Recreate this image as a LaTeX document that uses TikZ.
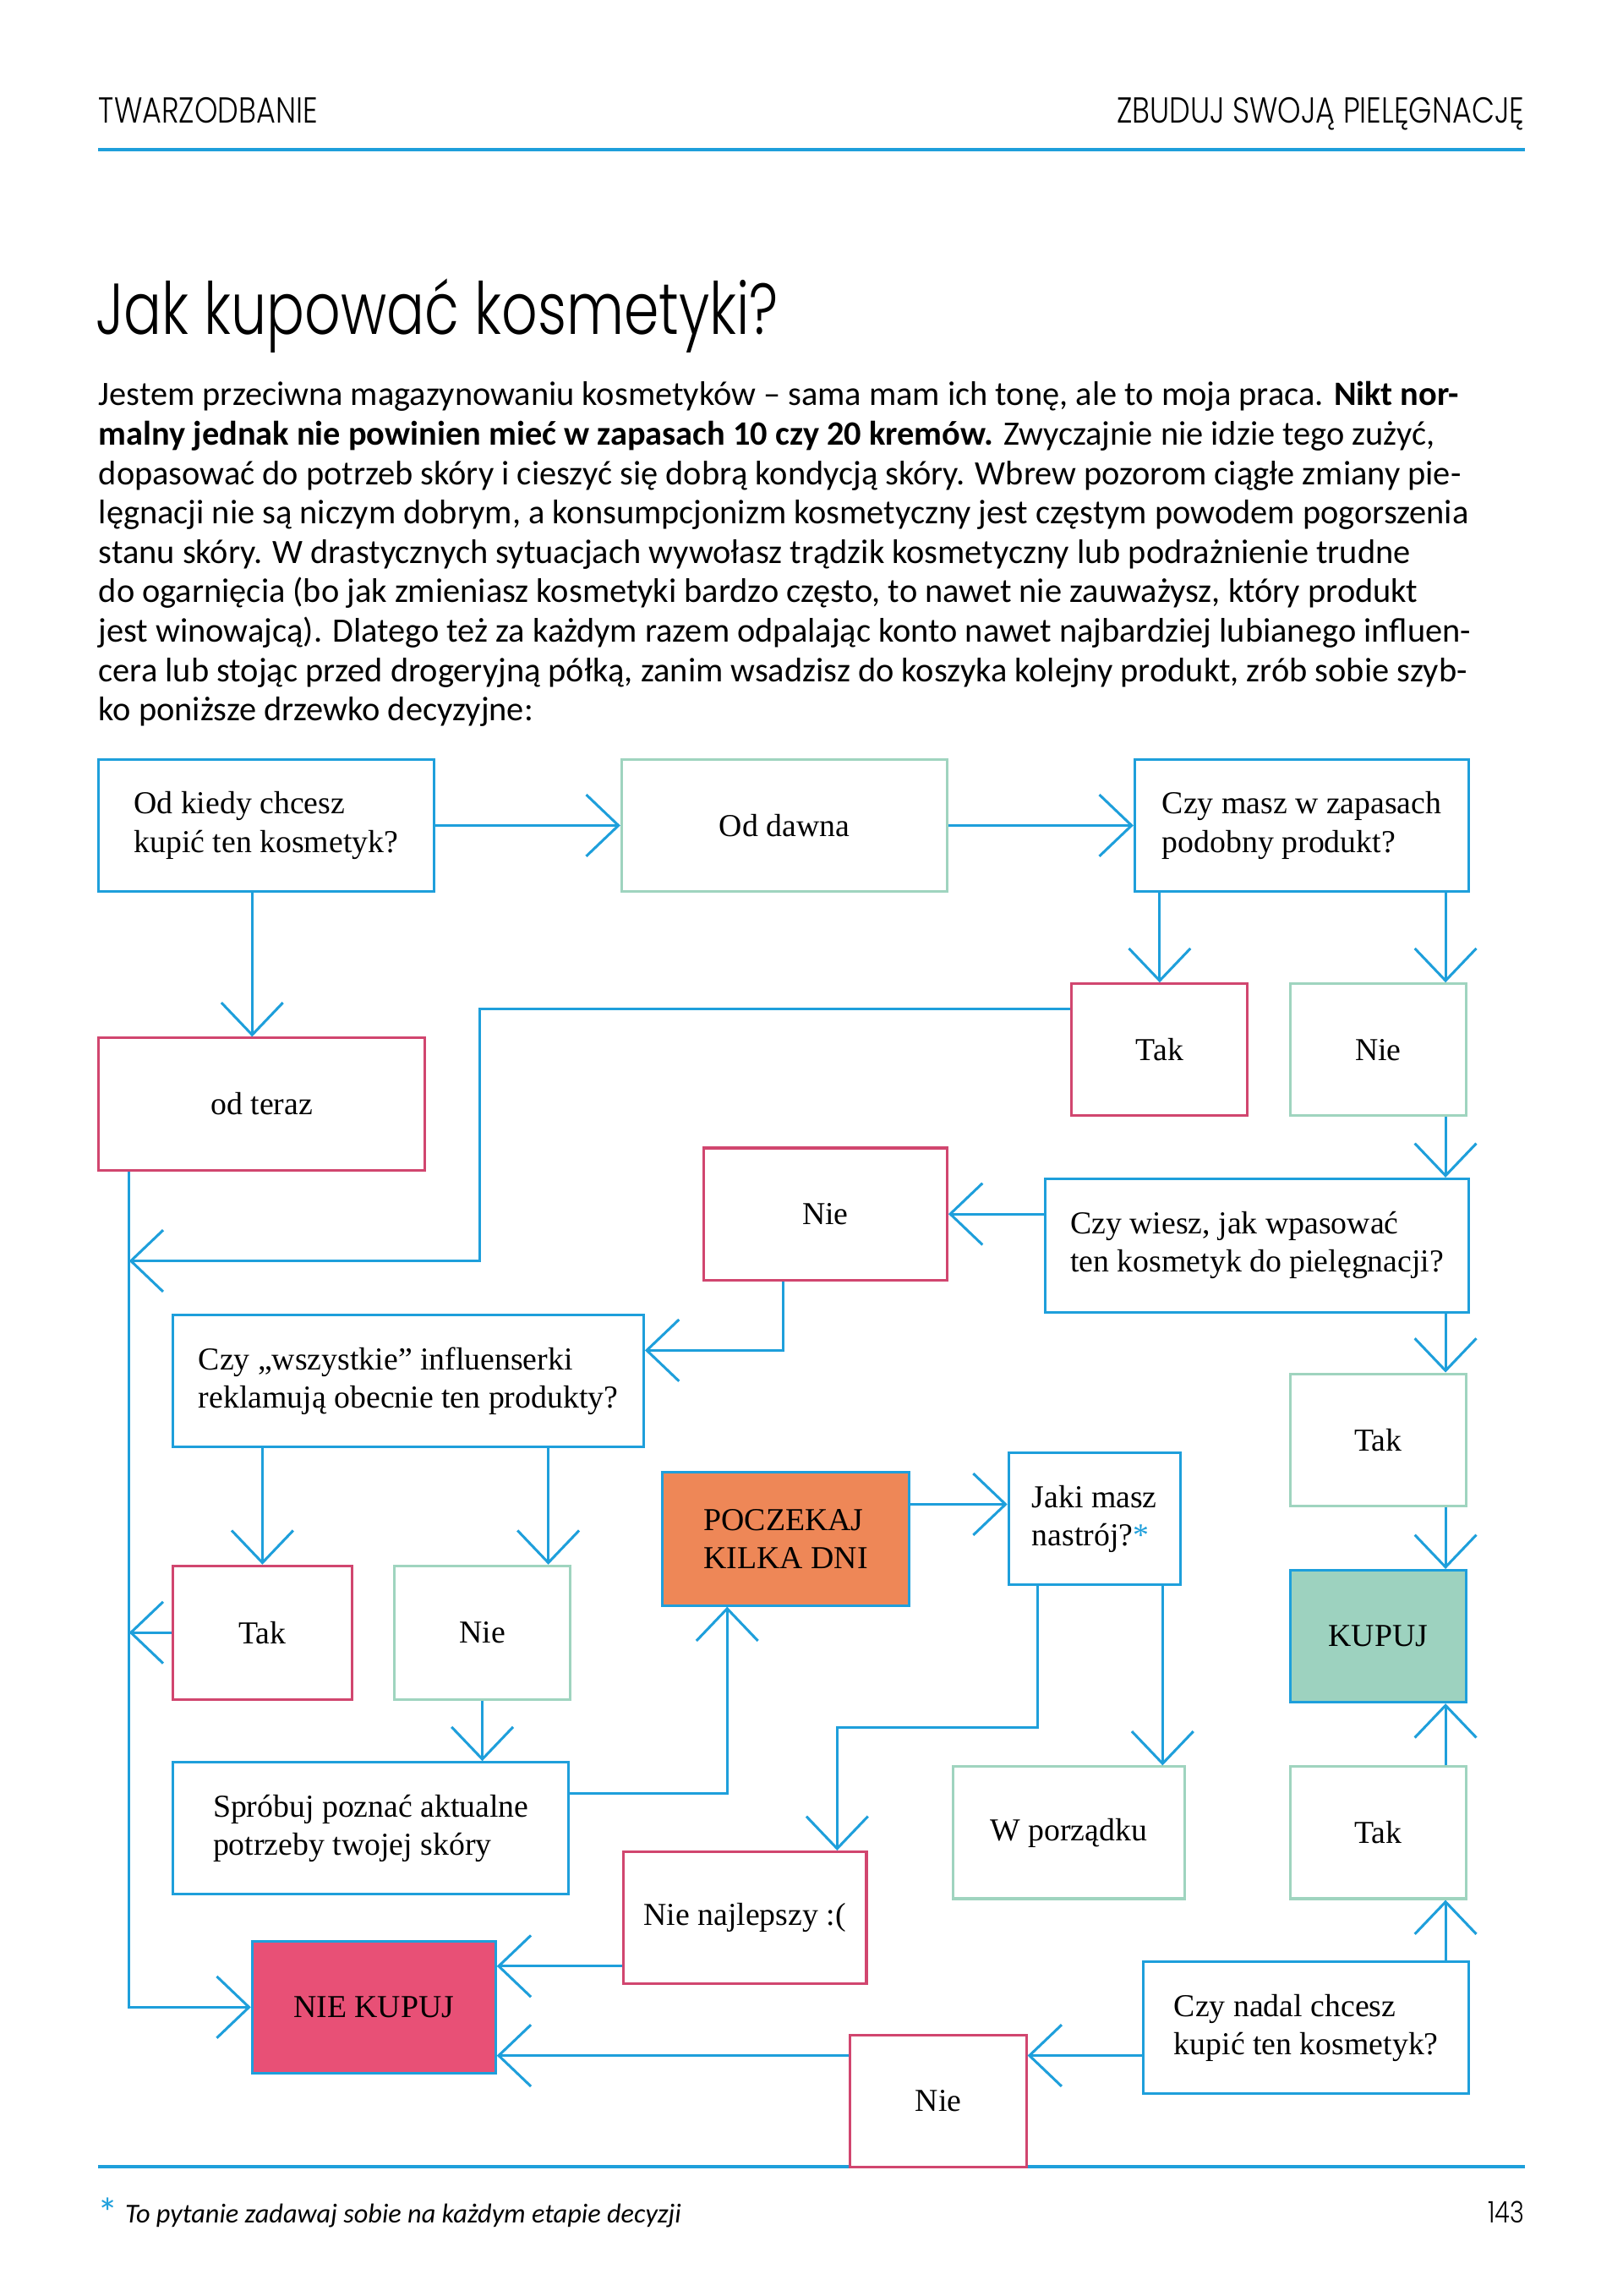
\documentclass[tikz,border=0pt]{standalone}
\usepackage{fontspec}
\setmainfont{Liberation Serif}
\newfontfamily\bodyfont{Carlito}
\newfontfamily\headfont[FakeStretch=0.82]{Poppins Light}
\newfontfamily\titlefont[FakeStretch=0.78]{Poppins Light}
\usetikzlibrary{arrows.meta}
\definecolor{pageblue}{HTML}{1E9FDB}
\definecolor{rosered}{HTML}{D1466F}
\definecolor{mintline}{HTML}{9FD4BF}
\definecolor{mintfill}{HTML}{9DD2BF}
\definecolor{orangefill}{HTML}{EE8757}
\definecolor{pinkfill}{HTML}{E85076}
\begin{document}
\begin{tikzpicture}[
		x=0.02cm, y=-0.02cm,
		every node/.style={inner sep=0pt},
		sz/.style 2 args={minimum width=#1*0.02cm, minimum height=#2*0.02cm},
		box/.style={draw, line width=1pt, fill=white, align=left, font=\fontsize{12.4}{14.8}\selectfont},
		bluebox/.style={box, draw=pageblue},
		pinkbox/.style={box, draw=rosered},
		greenbox/.style={box, draw=mintline},
		arr/.style={draw=pageblue, line width=1pt, -{Straight Barb[length=0.44cm, width=0.84cm]}}
	]
	\useasboundingbox (0,0) rectangle (1107,1566);
	% page head and foot
	\node[font=\headfont\fontsize{14}{14}\selectfont, anchor=base west] (section) at (67,84) {TWARZODBANIE};
	\node[font=\headfont\fontsize{14}{14}\selectfont, anchor=base east] (chapter) at (1040,84) {ZBUDUJ SWOJĄ PIELĘGNACJĘ};
	\draw[pageblue, line width=1.3pt] (67,102) -- (1040,102);
	\draw[pageblue, line width=1.3pt] (67,1478) -- (1040,1478);
	\node[font=\titlefont\fontsize{28}{28}\selectfont, anchor=base west] (title) at (65,228) {Jak kupować kosmetyki?};
	\node[font=\bodyfont\fontsize{13.25}{15.3}\selectfont, align=left, anchor=north west] (intro) at (67,260) {%
		Jestem przeciwna magazynowaniu kosmetyków – sama mam ich tonę, ale to moja praca. \textbf{Nikt nor-}\\
		\textbf{malny jednak nie powinien mieć w zapasach 10 czy 20 kremów.} Zwyczajnie nie idzie tego zużyć,\\
		dopasować do potrzeb skóry i cieszyć się dobrą kondycją skóry. Wbrew pozorom ciągłe zmiany pie-\\
		lęgnacji nie są niczym dobrym, a konsumpcjonizm kosmetyczny jest częstym powodem pogorszenia\\
		stanu skóry. W drastycznych sytuacjach wywołasz trądzik kosmetyczny lub podrażnienie trudne\\
		do ogarnięcia (bo jak zmieniasz kosmetyki bardzo często, to nawet nie zauważysz, który produkt\\
		jest winowajcą). Dlatego też za każdym razem odpalając konto nawet najbardziej lubianego influen-\\
		cera lub stojąc przed drogeryjną półką, zanim wsadzisz do koszyka kolejny produkt, zrób sobie szyb-\\
		ko poniższe drzewko decyzyjne:};
	\node[font=\bodyfont\fontsize{16}{16}\selectfont, text=pageblue, anchor=base west] (star) at (66,1519) {*};
	\node[font=\bodyfont\itshape\fontsize{10.6}{12}\selectfont, anchor=base west] (note) at (85,1516) {To pytanie zadawaj sobie na każdym etapie decyzji};
	\node[font=\headfont\fontsize{11.5}{12}\selectfont, anchor=base east] (page) at (1040,1516) {143};
	% decision tree
	\coordinate (rail) at (88,798);
	\node[bluebox, sz={229}{90}] (q1) at (181.5,563) {Od kiedy chcesz\\kupić ten kosmetyk?};
	\node[greenbox, sz={222}{90}, align=center] (dawna) at (535,563) {Od dawna};
	\node[bluebox, sz={228}{90}] (q2) at (888,563) {Czy masz w zapasach\\podobny produkt?};
	\node[pinkbox, sz={223}{90}] (teraz) at (178.5,753) {od teraz};
	\node[pinkbox, sz={120}{90}] (tak1) at (791,716) {Tak};
	\node[greenbox, sz={120}{90}] (nie1) at (940,716) {Nie};
	\node[pinkbox, sz={166}{90}] (nie2) at (563,828) {Nie};
	\node[bluebox, sz={289}{91}] (q3) at (857.5,849.5) {Czy wiesz, jak wpasować\\ten kosmetyk do pielęgnacji?};
	\node[bluebox, sz={321}{90}] (q4) at (278.5,942) {Czy „wszystkie” influenserki\\reklamują obecnie ten produkty?};
	\node[greenbox, sz={120}{90}] (tak2) at (940,982) {Tak};
	\node[bluebox, sz={168}{91}, fill=orangefill] (wait) at (536,1049.5) {POCZEKAJ\\KILKA DNI};
	\node[bluebox, sz={117}{90}] (mood) at (746.5,1036) {Jaki masz\\nastrój?{\color{pageblue}*}};
	\node[bluebox, sz={120}{90}, fill=mintfill] (buy) at (940,1116) {KUPUJ};
	\node[pinkbox, sz={122}{91}] (tak3) at (179,1113.5) {Tak};
	\node[greenbox, sz={120}{91}] (nie3) at (329,1113.5) {Nie};
	\node[bluebox, sz={270}{90}] (learn) at (253,1247) {Spróbuj poznać aktualne\\potrzeby twojej skóry};
	\node[greenbox, sz={158}{90}] (ok) at (729,1250) {W porządku};
	\node[greenbox, sz={120}{90}] (tak4) at (940,1250) {Tak};
	\node[pinkbox, sz={166}{90}] (bad) at (508,1308) {Nie najlepszy :(};
	\node[bluebox, sz={166}{90}, fill=pinkfill] (nobuy) at (255,1369) {NIE KUPUJ};
	\node[bluebox, sz={222}{90}] (q5) at (891,1383) {Czy nadal chcesz\\kupić ten kosmetyk?};
	\node[pinkbox, sz={120}{90}] (nie4) at (640,1433) {Nie};
	% connectors
	\draw[arr] (q1.east) -- (dawna.west);
	\draw[arr] (dawna.east) -- (q2.west);
	\draw[arr] (q1.south -| 172,0) -- (teraz.north -| 172,0);
	\draw[arr] (q2.south -| tak1) -- (tak1.north);
	\draw[arr] (q2.south -| 986,0) -- (nie1.north -| 986,0);
	\draw[arr] (tak1.west |- 0,688) -| (327,860) -- (rail |- 0,860);
	\draw[arr] (teraz.south -| rail) |- (nobuy.west);
	\draw[arr] (nie1.south -| 986,0) -- (q3.north -| 986,0);
	\draw[arr] (q3.west |- nie2) -- (nie2.east);
	\draw[arr] (nie2.south -| 534,0) |- (q4.east |- 0,921);
	\draw[arr] (q3.south -| 986,0) -- (tak2.north -| 986,0);
	\draw[arr] (tak2.south -| 986,0) -- (buy.north -| 986,0);
	\draw[arr] (q4.south -| tak3) -- (tak3.north);
	\draw[arr] (q4.south -| 374,0) -- (nie3.north -| 374,0);
	\draw[arr] (tak3.west) -- (tak3.west -| rail);
	\draw[arr] (nie3.south) -- (learn.north -| nie3);
	\draw[arr] (learn.east |- 0,1223) -| (wait.south -| 496,0);
	\draw[arr] (wait.east |- 0,1026) -- (mood.west |- 0,1026);
	\draw[arr] (mood.south -| 708,0) |- (571,1178) -- (bad.north -| 571,0);
	\draw[arr] (mood.south -| 793,0) -- (ok.north -| 793,0);
	\draw[arr] (bad.west |- 0,1341) -- (nobuy.east |- 0,1341);
	\draw[arr] (q5.north -| 986,0) -- (tak4.south -| 986,0);
	\draw[arr] (tak4.north -| 986,0) -- (buy.south -| 986,0);
	\draw[arr] (q5.west |- 0,1402) -- (nie4.east |- 0,1402);
	\draw[arr] (nie4.west |- 0,1402) -- (nobuy.east |- 0,1402);
\end{tikzpicture}
\end{document}
